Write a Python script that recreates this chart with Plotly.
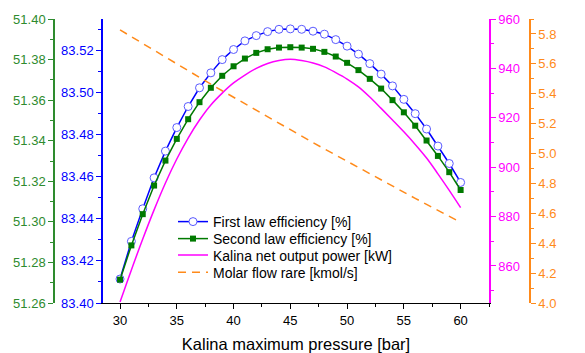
import plotly.graph_objects as go

pressure = list(range(30, 61))

first_law = [83.4114, 83.4293, 83.4448, 83.4595, 83.4722, 83.4834, 83.4934, 83.5023,
             83.5094, 83.5157, 83.5205, 83.5246, 83.5271, 83.5290, 83.5301, 83.5303,
             83.5301, 83.5292, 83.5278, 83.5252, 83.5221, 83.5183, 83.5138, 83.5088,
             83.5032, 83.4968, 83.4900, 83.4827, 83.4746, 83.4663, 83.4573]

second_law = [51.2715, 51.2884, 51.3038, 51.3179, 51.3302, 51.3409, 51.3506, 51.3590,
              51.3661, 51.3720, 51.3767, 51.3805, 51.3833, 51.3851, 51.3859, 51.3861,
              51.3859, 51.3853, 51.3838, 51.3815, 51.3784, 51.3748, 51.3705, 51.3657,
              51.3600, 51.3540, 51.3474, 51.3401, 51.3325, 51.3245, 51.3157]

net_power = [845.4, 858.4, 870.9, 882.7, 893.6, 903.3, 911.8, 919.1, 925.2, 930.0,
             934.1, 937.3, 940.0, 942.0, 943.2, 943.7, 943.2, 942.2, 940.6, 938.3,
             935.7, 932.5, 928.4, 923.8, 919.1, 914.3, 909.2, 903.7, 897.3, 890.6, 883.6]

molar_flow = [5.827, 5.781, 5.735, 5.689, 5.643, 5.598, 5.554, 5.509, 5.464, 5.420,
              5.376, 5.332, 5.288, 5.244, 5.201, 5.159, 5.116, 5.073, 5.031, 4.989,
              4.947, 4.905, 4.863, 4.822, 4.781, 4.740, 4.700, 4.660, 4.620, 4.580, 4.540]

BLUE = "#0000FF"
GREEN_S = "#007A00"
GREEN_A = "#2E8B2E"
MAG = "#FF00FF"
ORANGE = "#FF8A1A"
FONT = "Liberation Sans, Arial, sans-serif"

fig = go.Figure()
fig.add_trace(go.Scatter(
    x=pressure, y=first_law, name="First law efficiency [%]", yaxis="y", legend="legend",
    mode="lines+markers", line=dict(color=BLUE, width=1.5),
    marker=dict(symbol="circle", size=8, color="white", line=dict(color="#5A5AFF", width=1))))
fig.add_trace(go.Scatter(
    x=pressure, y=second_law, name="Second law efficiency [%]", yaxis="y2", legend="legend2",
    mode="lines+markers", line=dict(color=GREEN_S, width=1.5),
    marker=dict(symbol="square", size=6, color=GREEN_S)))
fig.add_trace(go.Scatter(
    x=pressure, y=net_power, name="Kalina net output power [kW]", yaxis="y3", legend="legend3",
    mode="lines", line=dict(color=MAG, width=1.5, shape="spline")))
fig.add_trace(go.Scatter(
    x=pressure, y=molar_flow, name="Molar flow rare [kmol/s]", yaxis="y4", legend="legend4",
    mode="lines", line=dict(color=ORANGE, width=1.5, dash="8px,6px")))

# the page body has an 8px margin, so the figure is drawn 8px in from the corner
OFF = 8
FW, FH = 585 - OFF, 353 - OFF
L = 54 - OFF
T = 19 - OFF
R = FW - (530 - OFF)
B = FH - (303 - OFF)
W = FW - L - R
H = FH - T - B
dom = [(103 - 54) / W, (489 - 54) / W]

def yax(color, rng, dtick, minor, fmt, **kw):
    d = dict(range=rng, dtick=dtick, tickformat=fmt, color=color, automargin=False,
             showline=True, linecolor=color, linewidth=1.5, ticks="outside",
             ticklen=5, tickwidth=1, tickcolor=color, showgrid=False, zeroline=False,
             tickfont=dict(size=13, color=color, family=FONT),
             minor=dict(dtick=minor, ticks="outside", ticklen=3, tickcolor=color, showgrid=False))
    d.update(kw)
    return d

def leg(row_y):
    return dict(x=(173 - 54) / W, y=1 - (row_y - 19) / H, xanchor="left", yanchor="middle",
                bgcolor="rgba(0,0,0,0)", font=dict(size=14, color="black", family=FONT))

fig.update_layout(
    width=FW, height=FH,
    margin=dict(l=L, r=R, t=T, b=B, autoexpand=False),
    paper_bgcolor="white", plot_bgcolor="white",
    font=dict(family=FONT, size=13, color="black"),
    xaxis=dict(domain=dom, range=[28.5, 62.5], dtick=5, showline=True, linecolor="black",
               linewidth=1, ticks="outside", ticklen=5, tickcolor="black", showgrid=False,
               zeroline=False, tickfont=dict(size=13, color="black"), automargin=False,
               minor=dict(dtick=2.5, ticks="outside", ticklen=3, tickcolor="black", showgrid=False),
               title=dict(text="Kalina maximum pressure [bar]", font=dict(size=16.5, color="black"),
                          standoff=12)),
    yaxis=yax(BLUE, [83.40, 83.535], 0.02, 0.01, ".2f", anchor="x", side="left"),
    yaxis2=yax(GREEN_A, [51.26, 51.40], 0.02, 0.01, ".2f", anchor="free", overlaying="y",
               side="left", position=0),
    yaxis3=yax(MAG, [845, 960], 20, 10, "d", anchor="x", overlaying="y", side="right"),
    yaxis4=yax(ORANGE, [4.0, 5.9], 0.2, 0.1, ".1f", anchor="free", overlaying="y",
               side="right", position=1),
    legend=leg(222.0),
    legend2=leg(239.0),
    legend3=leg(255.5),
    legend4=leg(272.7),
    showlegend=True,
)

fig.write_html("out.html")
